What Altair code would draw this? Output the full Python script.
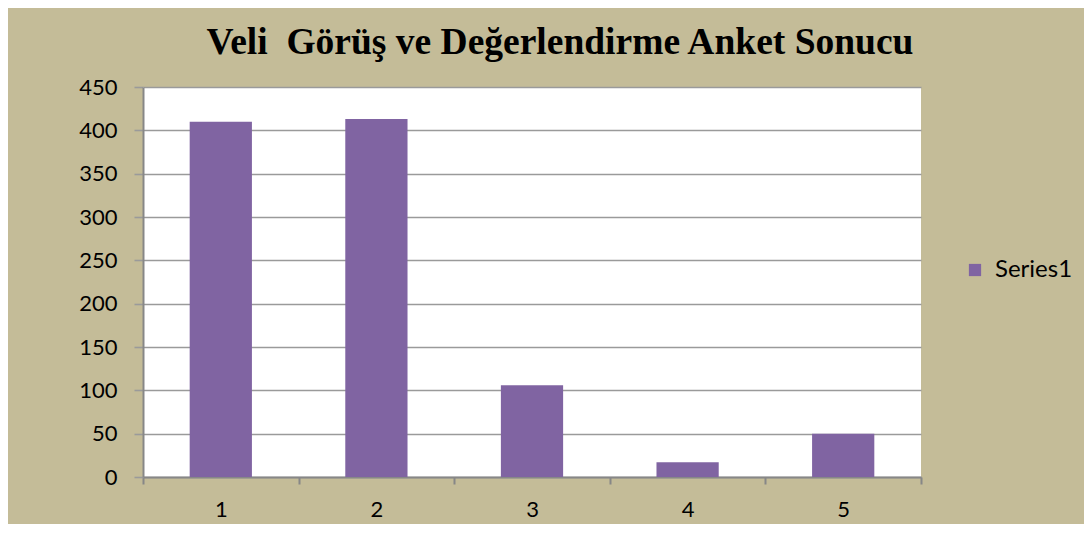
import altair as alt
import pandas as pd

categories = ["1", "2", "3", "4", "5"]
values = [410, 413, 106, 17, 50]
series = ["Series1"] * 5

df = pd.DataFrame({"cat": categories, "value": values, "series": series})

TAN = "#c4bc98"
PURPLE = "#8064a2"

chart = alt.Chart(df).mark_bar(width=alt.RelativeBandSize(0.4), color=PURPLE).encode(
    x=alt.X("cat:N", sort=categories,
            scale=alt.Scale(paddingInner=0, paddingOuter=0),
            axis=alt.Axis(title=None, labelAngle=0, tickBand="extent", grid=False,
                          labelFont="Lato", labelFontSize=22, labelColor="#000000",
                          labelPadding=15, tickSize=7, tickColor="#878787", tickWidth=2,
                          domainColor="#878787", domainWidth=2)),
    y=alt.Y("value:Q", scale=alt.Scale(domain=[0, 450], nice=False),
            axis=alt.Axis(title=None, values=list(range(0, 451, 50)), grid=True,
                          gridColor="#9a9a9a", gridWidth=1.6,
                          labelFont="Lato", labelFontSize=22, labelColor="#000000",
                          labelPadding=17, tickSize=9, tickColor="#9a9a9a", tickWidth=1.6,
                          domainColor="#878787", domainWidth=2)),
    color=alt.Color("series:N", scale=alt.Scale(domain=["Series1"], range=[PURPLE]),
                    legend=alt.Legend(title=None, orient="none", legendX=820, legendY=171,
                                      symbolType="square", symbolSize=150, symbolStrokeWidth=0,
                                      labelFont="Lato", labelFontSize=24, labelColor="#000000",
                                      labelOffset=8, padding=0)),
).properties(
    width=778,
    height=390,
    title=alt.TitleParams("Veli\u00a0 Görüş ve Değerlendirme Anket Sonucu",
                          font="Liberation Serif", fontSize=37.5, fontWeight="bold",
                          color="#000000", anchor="middle", dx=28, offset=15),
    autosize=alt.AutoSizeParams(type="none"),
    padding={"left": 135, "top": 79, "right": 163, "bottom": 47},
    background=TAN,
).configure_view(fill="white", stroke=None)

chart.save("out.html", embed_options={"renderer": "svg", "actions": False})
